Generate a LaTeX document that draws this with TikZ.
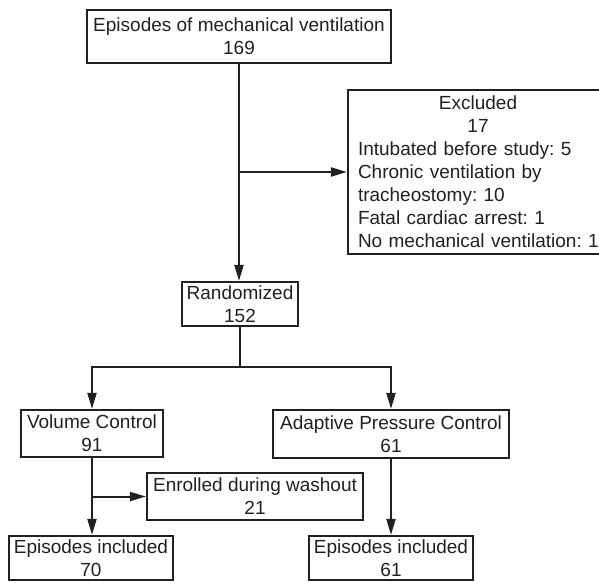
\documentclass[tikz,border=0pt]{standalone}
\usepackage{fontspec}
\setmainfont{Liberation Sans}
\usetikzlibrary{arrows.meta}
\definecolor{ink}{HTML}{231F20}
\frenchspacing
\begin{document}
\begin{tikzpicture}[x=1pt,y=1pt,
  box/.style={draw=ink, line width=2.2pt, align=center, inner sep=0pt,
    font=\fontsize{19pt}{23pt}\selectfont\frenchspacing, text=ink},
  conn/.style={draw=ink, line width=2pt},
  arr/.style={conn, -{Triangle[length=16pt,width=9pt]}}]
\useasboundingbox (0,0) rectangle (599,-582);
\clip (0,0) rectangle (599,-582);
\node[box, minimum width=304pt, minimum height=53pt] (top) at (239,-36.5)
  {Episodes of mechanical ventilation\\169};
\node[box, align=left, text width=260pt, inner xsep=10pt, inner ysep=0pt, minimum height=164pt] (excl) at (488,-172)
  {\makebox[240pt]{Excluded}\\\makebox[240pt]{17}\\Intubated before study: 5\\Chronic ventilation by\\tracheostomy: 10\\Fatal cardiac arrest: 1\\No mechanical ventilation: 1};
\node[box, minimum width=116pt, minimum height=44pt] (rand) at (240,-304)
  {Randomized\\152};
\node[box, minimum width=142pt, minimum height=47pt] (vc) at (92,-433.5)
  {Volume Control\\91};
\node[box, minimum width=236pt, minimum height=48pt] (apc) at (391,-434)
  {Adaptive Pressure Control\\61};
\node[box, minimum width=216pt, minimum height=47pt] (enr) at (255,-496.5)
  {Enrolled during washout\\21};
\node[box, minimum width=164pt, minimum height=44pt] (ei1) at (91,-558)
  {Episodes included\\70};
\node[box, minimum width=164pt, minimum height=44pt] (ei2) at (391,-558)
  {Episodes included\\61};
\coordinate (j1) at (top.south |- excl.west);
\coordinate (j2) at (rand.south |- 0,-367);
\coordinate (j3) at (vc.south |- enr.west);
\draw[arr] (top.south) -- (top.south |- rand.north);
\draw[arr] (j1) -- (excl.west);
\draw[conn] (rand.south) -- (j2);
\draw[arr] (j2) -| (vc.north);
\draw[arr] (j2) -| (apc.north);
\draw[arr] (vc.south) -- (vc.south |- ei1.north);
\draw[arr] (j3) -- (enr.west);
\draw[arr] (apc.south) -- (ei2.north);
\end{tikzpicture}
\end{document}
